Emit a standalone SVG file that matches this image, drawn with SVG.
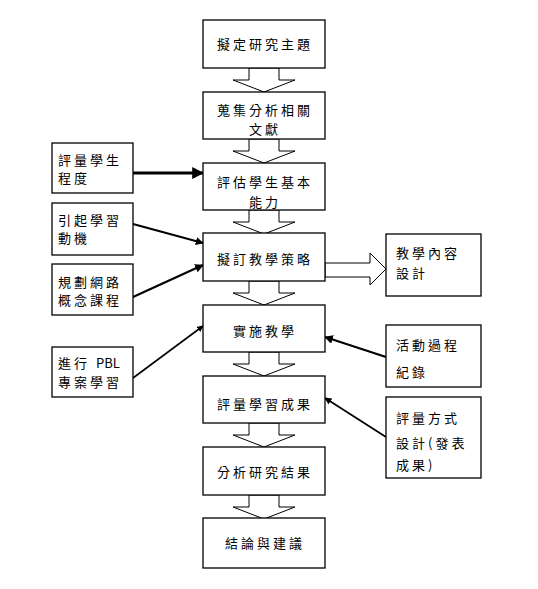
<svg xmlns="http://www.w3.org/2000/svg" width="538" height="589" viewBox="0 0 538 589">
<style>
.box{fill:#fff;stroke:#000;stroke-width:1.3}
.blk{fill:#fff;stroke:#000;stroke-width:1}
.t{font-family:"Noto Sans CJK TC","Noto Sans CJK SC",sans-serif;font-size:13px;fill:#000;letter-spacing:3px}
.c{text-anchor:middle}
.ln{stroke:#000;fill:none;marker-end:url(#ah)}
</style>
<defs>
<marker id="ah" viewBox="0 0 10 10" refX="9" refY="5" markerWidth="4" markerHeight="4" orient="auto" markerUnits="strokeWidth">
<path d="M0,0 L10,5 L0,10 z" fill="#000"/>
</marker>
<polygon id="down" points="-15,0 -15,12 -31,12 0,24 31,12 15,12 15,0"/>
</defs>
<rect width="538" height="589" fill="#fff"/>
<g id="connectors">
<use href="#down" class="blk" x="264" y="68"/>
<use href="#down" class="blk" x="264" y="139"/>
<use href="#down" class="blk" x="264" y="210"/>
<use href="#down" class="blk" x="264" y="281"/>
<use href="#down" class="blk" x="264" y="352"/>
<use href="#down" class="blk" x="264" y="423"/>
<use href="#down" class="blk" x="264" y="495"/>
<polygon class="blk" points="325,263 370,263 370,253 386,269 370,285 370,277 325,277"/>
<line class="ln" x1="133" y1="173" x2="203" y2="173" stroke-width="3"/>
<line class="ln" x1="133" y1="224" x2="203" y2="243" stroke-width="2"/>
<line class="ln" x1="133" y1="297" x2="203" y2="265" stroke-width="2.2"/>
<line class="ln" x1="133" y1="378" x2="203" y2="326" stroke-width="1.6"/>
<line class="ln" x1="386" y1="357" x2="325" y2="337" stroke-width="2.2"/>
<line class="ln" x1="386" y1="437" x2="325" y2="398" stroke-width="1.8"/>
</g>
<g id="n1"><rect class="box" x="203" y="20" width="122" height="48"/><text class="t c" x="265" y="49">擬定研究主題</text></g>
<g id="n2"><rect class="box" x="203" y="92" width="122" height="47"/><text class="t c" x="265" y="115">蒐集分析相關</text><text class="t c" x="265" y="134">文獻</text></g>
<g id="n3"><rect class="box" x="203" y="163" width="122" height="47"/><text class="t c" x="265" y="187">評估學生基本</text><text class="t c" x="265" y="207">能力</text></g>
<g id="n4"><rect class="box" x="203" y="233" width="122" height="48"/><text class="t c" x="265" y="264">擬訂教學策略</text></g>
<g id="n5"><rect class="box" x="203" y="305" width="122" height="47"/><text class="t c" x="265" y="336">實施教學</text></g>
<g id="n6"><rect class="box" x="203" y="376" width="122" height="47"/><text class="t c" x="265" y="409">評量學習成果</text></g>
<g id="n7"><rect class="box" x="203" y="447" width="122" height="48"/><text class="t c" x="265" y="477">分析研究結果</text></g>
<g id="n8"><rect class="box" x="203" y="518" width="122" height="50"/><text class="t c" x="265" y="548">結論與建議</text></g>
<g id="l1"><rect class="box" x="52" y="143" width="81" height="50"/><text class="t" x="58" y="165">評量學生</text><text class="t" x="58" y="183">程度</text></g>
<g id="l2"><rect class="box" x="52" y="203" width="81" height="52"/><text class="t" x="58" y="225">引起學習</text><text class="t" x="58" y="243">動機</text></g>
<g id="l3"><rect class="box" x="52" y="264" width="81" height="51"/><text class="t" x="58" y="287">規劃網路</text><text class="t" x="58" y="305">概念課程</text></g>
<g id="l4"><rect class="box" x="52" y="347" width="81" height="50"/><text class="t" x="58" y="368">進行 <tspan style="letter-spacing:0">PBL</tspan></text><text class="t" x="58" y="387">專案學習</text></g>
<g id="r1"><rect class="box" x="386" y="234" width="95" height="62"/><text class="t" x="396" y="258">教學內容</text><text class="t" x="396" y="278">設計</text></g>
<g id="r2"><rect class="box" x="386" y="325" width="95" height="62"/><text class="t" x="396" y="350">活動過程</text><text class="t" x="396" y="377">紀錄</text></g>
<g id="r3"><rect class="box" x="386" y="397" width="95" height="81"/><text class="t" x="396" y="423">評量方式</text><text class="t" x="396" y="448">設計(發表</text><text class="t" x="396" y="470">成果)</text></g>
</svg>
